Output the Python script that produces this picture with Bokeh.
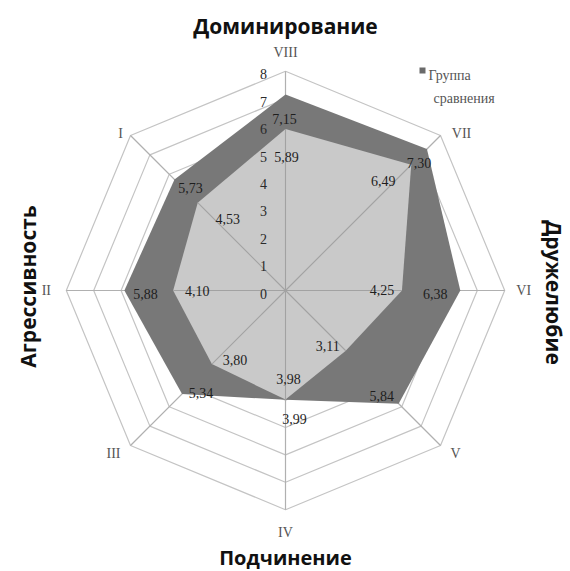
import numpy as np
from bokeh.plotting import figure
from bokeh.models import Range1d
from bokeh.core.properties import value
from bokeh.embed import file_html
from bokeh.resources import INLINE

# ---- data ----
axes_labels = ["VIII", "VII", "VI", "V", "IV", "III", "II", "I"]
comparison = [7.15, 7.30, 6.38, 5.84, 3.99, 5.34, 5.88, 5.73]   # Группа сравнения (dark)
main_group = [5.89, 6.49, 4.25, 3.11, 3.98, 3.80, 4.10, 4.53]   # light
ticks = [0, 1, 2, 3, 4, 5, 6, 7, 8]
legend_label = "Группа сравнения"
titles = ["Доминирование", "Дружелюбие", "Подчинение", "Агрессивность"]

# ---- geometry / styles ----
S = 27.4          # px per unit
RMAX = 8
n = len(axes_labels)
ang = np.pi / 2 - np.arange(n) * 2 * np.pi / n   # VIII at top, clockwise

def pt(v, i):
    return v * S * np.cos(ang[i]), v * S * np.sin(ang[i])

W, H = 570, 571
p = figure(width=W, height=H, output_backend="svg", toolbar_location=None,
           x_range=Range1d(-285, 285), y_range=Range1d(-281, 290),
           min_border=0)
p.axis.visible = False
p.grid.visible = False
p.outline_line_color = None
p.background_fill_color = "white"

ring_col = "#c4c4c4"
for lv in ticks[1:]:
    xs = [pt(lv, i)[0] for i in range(n)] + [pt(lv, 0)[0]]
    ys = [pt(lv, i)[1] for i in range(n)] + [pt(lv, 0)[1]]
    p.line(xs, ys, line_color=ring_col, line_width=1.2)
for i in range(n):
    x1, y1 = pt(RMAX, i)
    p.line([0, x1], [0, y1], line_color="#b0b0b0", line_width=1.2)

dx = [pt(comparison[i], i)[0] for i in range(n)]
dy = [pt(comparison[i], i)[1] for i in range(n)]
p.patch(dx, dy, fill_color="#787878", line_color=None)
lx = [pt(main_group[i], i)[0] for i in range(n)]
ly = [pt(main_group[i], i)[1] for i in range(n)]
p.patch(lx, ly, fill_color="#c9c9c9", line_color=None)
for i in range(n):
    x1, y1 = pt(main_group[i], i)
    p.line([0, x1], [0, y1], line_color="#a2a2a2", line_width=1.1)

serif = value("Liberation Serif")
sans = value("Open Sans")

# tick labels
tx = [-22 for t in ticks]
ty = [t * S - 3 for t in ticks]
p.text(tx, ty, text=[str(t) for t in ticks], text_font=serif, text_font_size="14px",
       text_color="#2a2a2a", text_align="center", text_baseline="middle")

# axis category labels: offsets (px, y-down) from outer vertex
lab_off = [(0, -19), (21, -2), (19, 0), (15, 8), (0, 23), (-17, 8), (-20, 0), (-10, -2)]
cx, cy = [], []
for i in range(n):
    x, y = pt(RMAX, i)
    cx.append(x + lab_off[i][0]); cy.append(y - lab_off[i][1])
p.text(cx, cy, text=axes_labels, text_font=serif, text_font_size="14px",
       text_color="#555555", text_align="center", text_baseline="middle")

# data labels (offsets in px, y-down)
dark_off = [(-1, 24), (-8, 14), (-25, 3), (-17, -8), (9, 19), (19, -1), (21, 3), (16, 9)]
light_off = [(1, 28), (-28, 16), (-20, -1), (-18, -5), (3, -21), (23, -4), (24, 0), (30, 16)]
def fmt(v):
    return f"{v:.2f}".replace(".", ",")
for vals, offs in ((comparison, dark_off), (main_group, light_off)):
    xs, ys = [], []
    for i in range(n):
        x, y = pt(vals[i], i)
        xs.append(x + offs[i][0]); ys.append(y - offs[i][1])
    p.text(xs, ys, text=[fmt(v) for v in vals], text_font=serif, text_font_size="14px",
           text_color="#1e1e1e", text_align="center", text_baseline="middle")

# legend
p.scatter([137], [220], marker="square", size=6, fill_color="#6a6a6a", line_color=None)
parts = legend_label.split(" ")
p.text([143, 148], [215, 192], text=parts, text_font=serif, text_font_size="14px",
       text_color="#555555", text_align="left", text_baseline="middle")

# outer titles
p.text([0], [265], text=[titles[0]], text_font=sans, text_font_size="21px",
       text_font_style="bold", text_color="#111111", text_align="center", text_baseline="middle")
p.text([0], [-267], text=[titles[2]], text_font=sans, text_font_size="20px",
       text_font_style="bold", text_color="#111111", text_align="center", text_baseline="middle")
p.text([-258], [4], text=[titles[3]], text_font=sans, text_font_size="21px", angle=np.pi / 2,
       text_font_style="bold", text_color="#111111", text_align="center", text_baseline="middle")
p.text([268], [-2], text=[titles[1]], text_font=sans, text_font_size="21px", angle=-np.pi / 2,
       text_font_style="bold", text_color="#111111", text_align="center", text_baseline="middle")

open("out.html", "w").write(file_html(p, INLINE))
